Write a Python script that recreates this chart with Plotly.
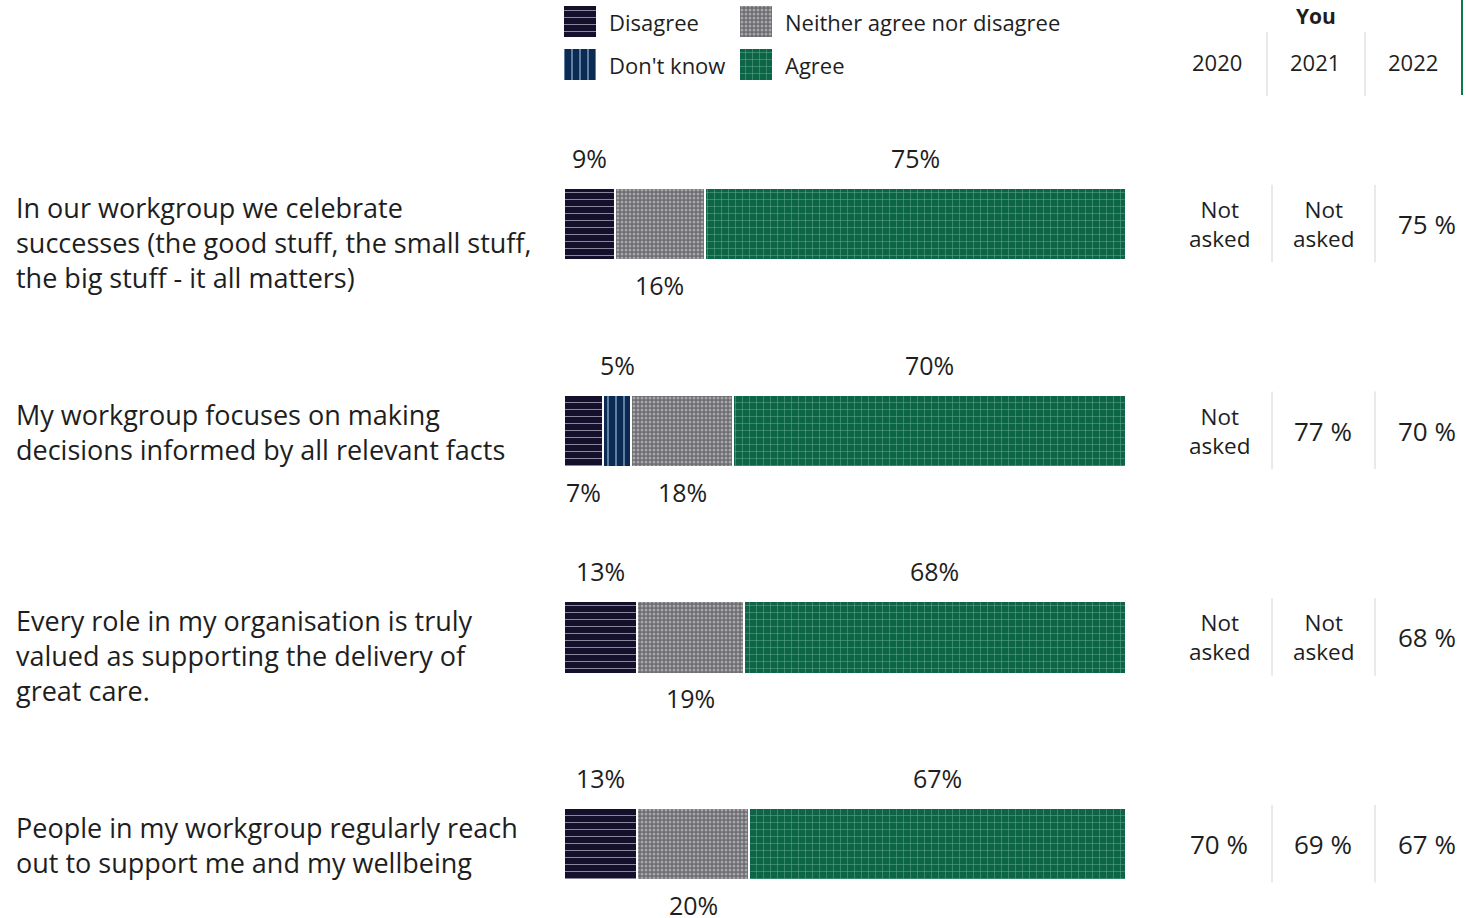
import plotly.graph_objects as go

# ── data ──
questions = [
    "In our workgroup we celebrate<br>successes (the good stuff, the small stuff,<br>the big stuff - it all matters)",
    "My workgroup focuses on making<br>decisions informed by all relevant facts",
    "Every role in my organisation is truly<br>valued as supporting the delivery of<br>great care.",
    "People in my workgroup regularly reach<br>out to support me and my wellbeing",
]
categories = ["Disagree", "Don't know", "Neither agree nor disagree", "Agree"]
disagree = [9, 7, 13, 13]
dont_know = [None, 5, None, None]
neither = [16, 18, 19, 20]
agree = [75, 70, 68, 67]

years = ["2020", "2021", "2022"]
you_2020 = [None, None, None, 70]
you_2021 = [None, 77, None, 69]
you_2022 = [75, 70, 68, 67]

FONT = "Open Sans"
TXT = "#1e1e1e"
W, H = 1466, 918

styles = {
    "Disagree": dict(bg="#14102b", fg="#8a879b", shape="-", size=7, solidity=0.15),
    "Don't know": dict(bg="#0b2b52", fg="#8fb0d6", shape="|", size=8, solidity=0.16),
    "Neither agree nor disagree": dict(bg="#6b6b70", fg="#a6a6aa", shape=".", size=4, solidity=0.45),
    "Agree": dict(bg="#0d6446", fg="#62ab8c", shape="+", size=7, solidity=0.14),
}

series = [disagree, dont_know, neither, agree]
yidx = list(range(len(questions)))

fig = go.Figure()

for name, vals in zip(categories, series):
    st = styles[name]
    fig.add_trace(go.Bar(
        y=yidx, x=vals, orientation="h", name=name, width=0.35,
        marker=dict(
            color=st["bg"], line=dict(color="white", width=2),
            pattern=dict(shape=st["shape"], bgcolor=st["bg"], fgcolor=st["fg"],
                         size=st["size"], solidity=st["solidity"], fillmode="replace"),
        ),
        showlegend=False, hoverinfo="x+name",
    ))

# legend swatches on a small helper axis
for i, name in enumerate(categories):
    st = styles[name]
    col, row = i // 2, i % 2
    fig.add_trace(go.Bar(
        x=[col], y=[0.7], base=[row - 0.35], width=0.182,
        xaxis="x2", yaxis="y2", showlegend=False, hoverinfo="skip",
        marker=dict(
            color=st["bg"], line=dict(width=0),
            pattern=dict(shape=st["shape"], bgcolor=st["bg"], fgcolor=st["fg"],
                         size=st["size"], solidity=st["solidity"], fillmode="replace"),
        ),
    ))
    fig.add_annotation(
        xref="paper", yref="y2", x=(607 if col == 0 else 783) / W, y=row,
        text=name, showarrow=False, xanchor="left", yanchor="middle",
        font=dict(family=FONT, size=22, color=TXT),
    )

# segment labels, alternating above / below from the right
for q in yidx:
    segs = []
    cum = 0
    for vals in series:
        v = vals[q]
        if v:
            segs.append((cum + v / 2, v))
            cum += v
    for k, (mid, v) in enumerate(reversed(segs)):
        above = k % 2 == 0
        fig.add_annotation(
            x=mid, y=q + (-0.32 if above else 0.295), text=f"{v}%",
            showarrow=False, xanchor="center", yanchor="middle",
            font=dict(family=FONT, size=25, color=TXT),
        )

# question text
for q, text in enumerate(questions):
    fig.add_annotation(
        xref="paper", yref="y", x=14 / W, y=q - 0.18, text=text,
        showarrow=False, xanchor="left", yanchor="top", align="left",
        font=dict(family=FONT, size=27, color=TXT),
    )

# right-hand table
col_x = [1219, 1323, 1427]
hdr_x = [1217, 1315, 1413]
for c, yr in enumerate(years):
    fig.add_annotation(xref="paper", yref="paper", x=hdr_x[c] / W, y=1 - 62 / H,
                       text=yr, showarrow=False, xanchor="center", yanchor="middle",
                       font=dict(family=FONT, size=22, color=TXT))
fig.add_annotation(xref="paper", yref="paper", x=1316 / W, y=1 - 16 / H,
                   text="<b>You</b>", showarrow=False, xanchor="center", yanchor="middle",
                   font=dict(family=FONT, size=21, color=TXT))

for c, vals in enumerate([you_2020, you_2021, you_2022]):
    for q in yidx:
        v = vals[q]
        if v is None:
            txt, sz = "Not<br>asked", 22.5
        else:
            txt, sz = f"{v} %", 26
        fig.add_annotation(xref="paper", yref="y", x=col_x[c] / W, y=q, text=txt,
                           showarrow=False, align="center", xanchor="center",
                           yanchor="middle",
                           font=dict(family=FONT, size=sz, color=TXT))

for q in yidx:
    for sx in (1272, 1375):
        fig.add_shape(type="line", xref="paper", yref="y", x0=sx / W, x1=sx / W,
                      y0=q - 0.19, y1=q + 0.185, line=dict(color="#d4d4d4", width=1))
for sx in (1267, 1365):
    fig.add_shape(type="line", xref="paper", yref="paper", x0=sx / W, x1=sx / W,
                  y0=1 - 32 / H, y1=1 - 96 / H, line=dict(color="#d4d4d4", width=1))
fig.add_shape(type="line", xref="paper", yref="paper", x0=1462 / W, x1=1462 / W,
              y0=1, y1=1 - 95 / H, line=dict(color="#0b7a4b", width=2))

fig.update_layout(
    width=W, height=H, barmode="stack",
    margin=dict(l=0, r=0, t=0, b=0),
    paper_bgcolor="white", plot_bgcolor="white",
    xaxis=dict(domain=[564 / W, 1126 / W], range=[0, 100], visible=False, fixedrange=True),
    yaxis=dict(domain=[0, 1], range=[3.357, -1.084], visible=False, fixedrange=True),
    xaxis2=dict(domain=[560 / W, 800 / W], range=[-0.1136, 1.25], visible=False,
                anchor="y2", fixedrange=True),
    yaxis2=dict(domain=[1 - 90 / H, 1], range=[1.593, -0.5], visible=False,
                anchor="x2", fixedrange=True),
    showlegend=False,
    bargap=0,
)

fig.write_html("out.html", config={"displayModeBar": False},
               post_script="document.body.style.margin='0';")
